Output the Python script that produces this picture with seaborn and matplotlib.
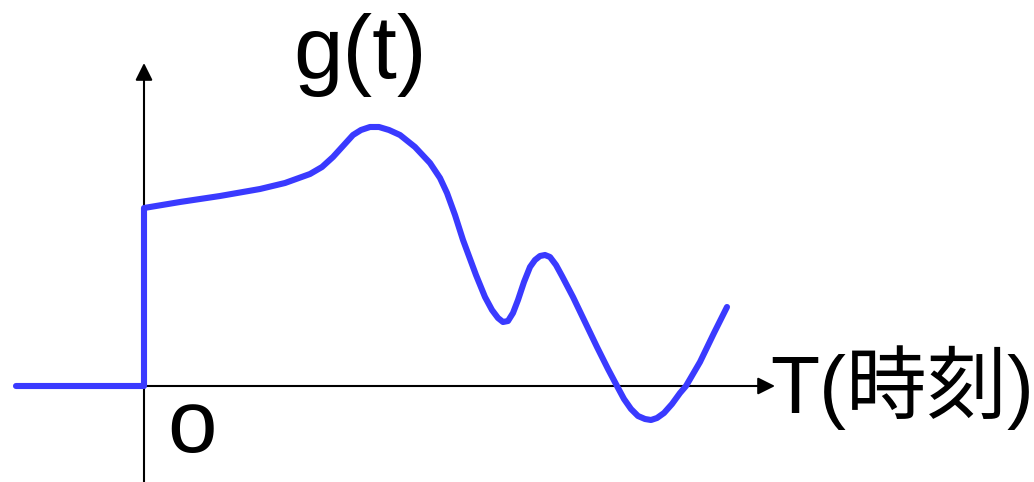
import seaborn as sns
import pandas as pd
import matplotlib.pyplot as plt

# curve (t: time, g: signal)
t = [-1.28, 0.0, 0.0, 0.36, 0.76, 1.16, 1.41, 1.66, 1.78, 1.89, 1.99, 2.09, 2.17,
     2.26, 2.35, 2.45, 2.56, 2.71, 2.86, 2.96, 3.03, 3.11, 3.19, 3.32, 3.41, 3.48,
     3.54, 3.59, 3.64, 3.69, 3.74, 3.80, 3.86, 3.91, 3.96, 4.01, 4.06, 4.12, 4.18,
     4.29, 4.41, 4.53, 4.64, 4.73, 4.80, 4.87, 4.94, 5.01, 5.07, 5.13, 5.20, 5.28,
     5.36, 5.42, 5.56, 5.70, 5.83]
g = [0.0, 0.0, 1.78, 1.84, 1.90, 1.97, 2.03, 2.12, 2.19, 2.29, 2.40, 2.51, 2.56,
     2.59, 2.59, 2.56, 2.51, 2.39, 2.23, 2.08, 1.93, 1.71, 1.46, 1.11, 0.89, 0.76,
     0.68, 0.64, 0.65, 0.73, 0.86, 1.04, 1.19, 1.26, 1.30, 1.31, 1.29, 1.21, 1.10,
     0.89, 0.64, 0.39, 0.17, 0.0, -0.13, -0.23, -0.30, -0.33, -0.34, -0.32, -0.27, -0.18,
     -0.07, 0.0, 0.24, 0.53, 0.79]

x_label = "T(時刻)"
y_label = "g(t)"
origin_label = "o"

sns.set_style("white")
plt.rcParams['font.family'] = ['Liberation Sans', 'Noto Sans CJK JP', 'DejaVu Sans']

df = pd.DataFrame({'t': t, 'g': g})

fig = plt.figure(figsize=(10.34, 4.82), dpi=100)
ax = fig.add_axes([0, 0, 1, 1])
ax.set_xlim(-1.44, 8.90)
ax.set_ylim(-0.96, 3.86)
ax.axis('off')

# axes with arrow heads
arrow = dict(arrowstyle='-|>', color='black', lw=1.5, mutation_scale=26, shrinkA=0, shrinkB=0)
ax.annotate('', xy=(6.31, 0), xytext=(0, 0), arrowprops=arrow)
ax.annotate('', xy=(0, 3.23), xytext=(0, -0.96), arrowprops=arrow)

sns.lineplot(data=df, x='t', y='g', sort=False, estimator=None, color='#3a3aff',
             linewidth=4.4, ax=ax, zorder=3)
ax.set_xlabel('')
ax.set_ylabel('')

ax.text(1.49, 3.08, y_label, fontsize=64, va='baseline', ha='left', color='black')
ax.text(6.26, -0.27, x_label, fontsize=58, va='baseline', ha='left', color='black')
ax.text(0.23, -0.66, origin_label, fontsize=64, va='baseline', ha='left', color='black')

plt.savefig('out.png', dpi=100)
